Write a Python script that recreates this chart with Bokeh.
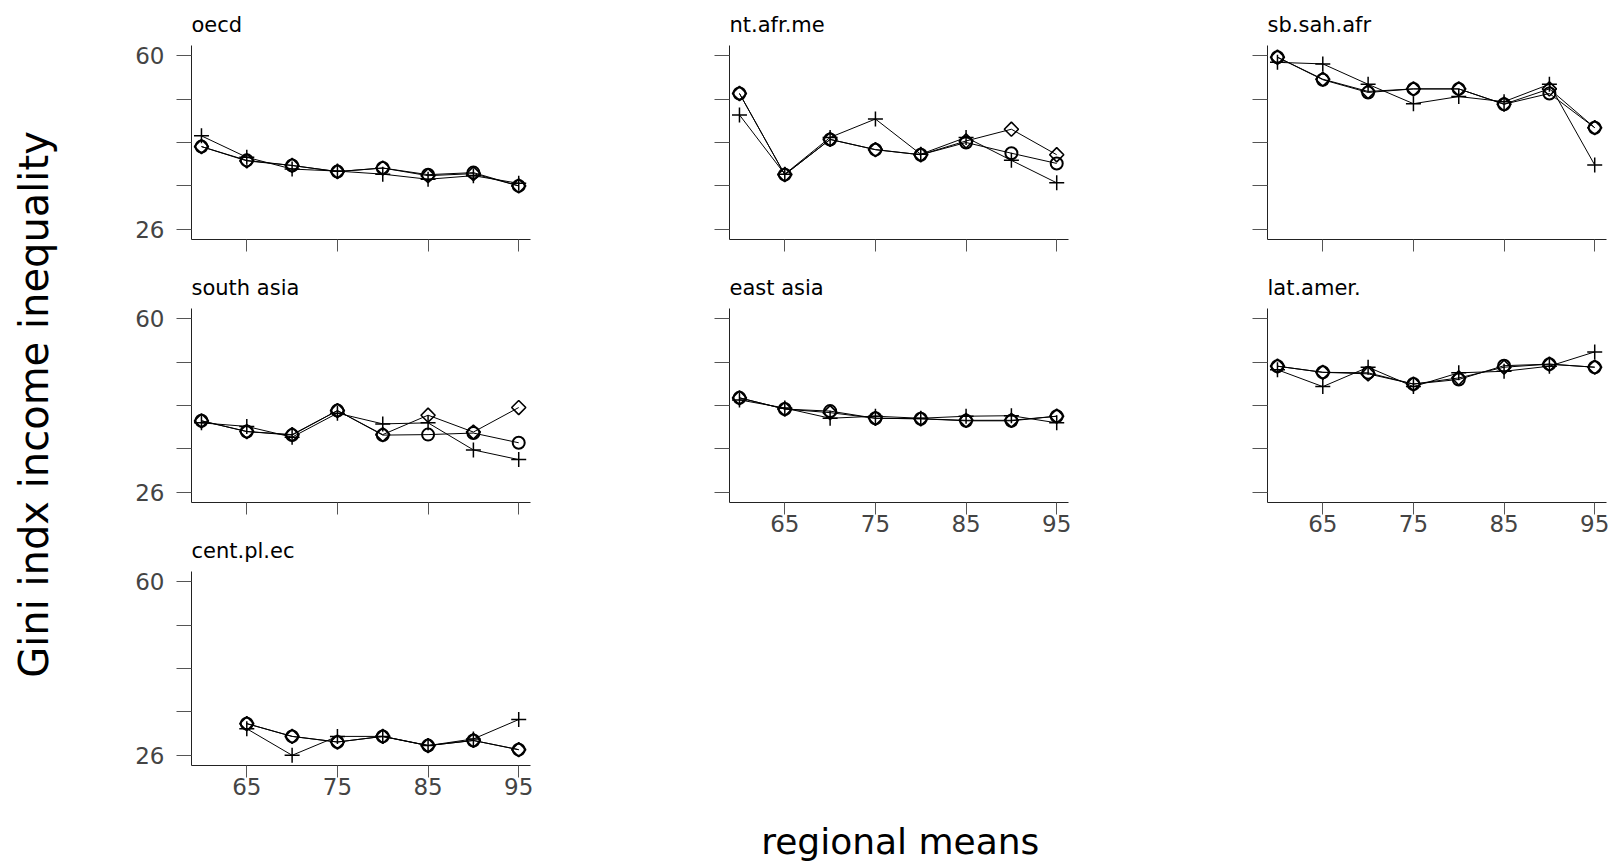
import numpy as np
from bokeh.plotting import figure
from bokeh.layouts import row, column
from bokeh.models import Range1d, FixedTicker, CustomJSTickFormatter, Label
from bokeh.embed import file_html
from bokeh.resources import INLINE

# ---------------- data ----------------
years = [60, 65, 70, 75, 80, 85, 90, 95]
x_ticks = [65, 75, 85, 95]
y_ticks = [26, 34.5, 43, 51.5, 60]
y_labeled = [26, 60]
x_title = "regional means"
y_title = "Gini indx income inequality"

oecd_plus = [44.3, 40.1, 37.8, 37.4, 36.8, 35.8, 36.5, 35.0]
oecd_circle = [42.2, 39.5, 38.5, 37.3, 38.0, 36.7, 37.1, 34.5]
oecd_diamond = [42.2, 39.4, 38.5, 37.3, 38.0, 36.5, 36.9, 34.5]

ntafr_plus = [48.4, 36.8, 44.0, 47.6, 40.7, 44.0, 39.5, 35.1]
ntafr_circle = [52.6, 36.7, 43.6, 41.6, 40.6, 43.0, 40.9, 38.9]
ntafr_diamond = [52.6, 36.7, 43.6, 41.6, 40.6, 43.3, 45.6, 40.6]

sbsah_plus = [58.7, 58.4, 54.4, 50.6, 52.0, 51.0, 54.4, 38.6]
sbsah_circle = [59.7, 55.3, 52.8, 53.5, 53.5, 50.5, 52.6, 45.9]
sbsah_diamond = [59.7, 55.4, 53.0, 53.5, 53.5, 50.5, 53.5, 45.9]

sasia_plus = [39.6, 38.9, 36.8, 41.5, 39.4, 39.6, 34.3, 32.4]
sasia_circle = [40.0, 37.9, 37.2, 42.0, 37.2, 37.3, 37.6, 35.7]
sasia_diamond = [40.0, 37.9, 37.3, 42.0, 37.3, 41.1, 37.8, 42.6]

easia_plus = [44.1, 42.5, 40.5, 40.9, 40.5, 40.9, 41.0, 39.6]
easia_circle = [44.5, 42.3, 41.9, 40.5, 40.4, 40.0, 40.0, 40.9]
easia_diamond = [44.5, 42.3, 41.6, 40.5, 40.4, 40.1, 40.1, 40.9]

latam_plus = [50.0, 46.7, 50.5, 46.7, 49.4, 49.7, 50.7, 53.5]
latam_circle = [50.7, 49.5, 49.4, 47.2, 48.1, 50.8, 51.1, 50.5]
latam_diamond = [50.7, 49.5, 49.2, 47.2, 48.4, 50.5, 51.1, 50.5]

cent_plus = [np.nan, 31.2, 26.0, 29.7, 29.7, 27.9, 29.2, 33.0]
cent_circle = [np.nan, 32.2, 29.7, 28.6, 29.7, 27.9, 28.9, 27.1]
cent_diamond = [np.nan, 32.2, 29.7, 28.6, 29.7, 27.9, 28.9, 27.1]

# ---------------- style ----------------
FONT = "DejaVu Sans"
FRAME_H = 194
LEFT = 113
TICK_FS = "23px"
AXIS_COL = "#222222"
TICK_COL = "#555555"


def panel(title, plus, circ, diam, width, right, top, bottom, ylabels, xlabels):
    p = figure(width=width, height=top + FRAME_H + bottom,
               x_range=Range1d(58.9, 96.3), y_range=Range1d(24, 62),
               output_backend="svg", toolbar_location=None,
               min_border_left=LEFT, min_border_right=right,
               min_border_top=top, min_border_bottom=bottom)
    p.outline_line_color = None
    p.xgrid.visible = False
    p.ygrid.visible = False
    p.title.text = title
    p.title.align = "left"
    p.title.text_font = FONT
    p.title.text_font_size = "21px"
    p.title.text_font_style = "normal"
    p.title.text_color = "black"
    p.title.standoff = 17

    xa = p.xaxis[0]
    xa.ticker = FixedTicker(ticks=x_ticks)
    xa.major_tick_out = 12
    xa.major_tick_in = 0
    xa.minor_tick_out = 0
    xa.axis_line_color = AXIS_COL
    xa.major_tick_line_color = TICK_COL
    xa.major_label_text_font = FONT
    xa.major_label_standoff = 0
    if xlabels:
        xa.major_label_text_font_size = TICK_FS
    else:
        xa.formatter = CustomJSTickFormatter(code="return '';")
        xa.major_label_text_font_size = "0px"

    ya = p.yaxis[0]
    ya.ticker = FixedTicker(ticks=y_ticks)
    ya.major_tick_out = 15
    ya.major_tick_in = 0
    ya.minor_tick_out = 0
    ya.axis_line_color = AXIS_COL
    ya.major_tick_line_color = TICK_COL
    ya.major_label_text_font = FONT
    ya.major_label_text_font_size = TICK_FS
    ya.major_label_standoff = 12
    if ylabels:
        ya.formatter = CustomJSTickFormatter(
            code="const show = %s; return show.includes(tick) ? String(tick) : '';" % y_labeled)
    else:
        ya.formatter = CustomJSTickFormatter(code="return '';")

    yrs = np.array(years, dtype=float)
    for vals in (diam, circ, plus):
        p.line(yrs, np.array(vals, dtype=float), line_color="black", line_width=1)
    p.scatter(yrs, np.array(diam, dtype=float), marker="square", angle=np.pi / 4, size=10,
              fill_color=None, line_color="black", line_width=1.6)
    p.scatter(yrs, np.array(circ, dtype=float), marker="circle", size=12,
              fill_color=None, line_color="black", line_width=2)
    p.scatter(yrs, np.array(plus, dtype=float), marker="cross", size=15,
              line_color="black", line_width=1.5)
    return p


def blank(width, height):
    p = figure(width=width, height=height, x_range=Range1d(0, width), y_range=Range1d(0, height),
               output_backend="svg", toolbar_location=None,
               min_border_left=0, min_border_right=0, min_border_top=0, min_border_bottom=0)
    p.axis.visible = False
    p.xgrid.visible = False
    p.ygrid.visible = False
    p.outline_line_color = None
    p.title.visible = False
    return p


YLAB_W = 78
W = 538
W3 = LEFT + 339 + 4
TOTAL_H = 862

T1, B1 = 45, 21
T2, B2 = 48, 21
B3 = 60
B2L = 50

p_oecd = panel("oecd", oecd_plus, oecd_circle, oecd_diamond, W, 86, T1, B1, True, False)
p_sasia = panel("south asia", sasia_plus, sasia_circle, sasia_diamond, W, 86, T2, B2, True, False)
p_cent = panel("cent.pl.ec", cent_plus, cent_circle, cent_diamond, W, 86, T2, B3, True, True)

p_ntafr = panel("nt.afr.me", ntafr_plus, ntafr_circle, ntafr_diamond, W, 86, T1, B1, False, False)
p_easia = panel("east asia", easia_plus, easia_circle, easia_diamond, W, 86, T2, B2L, False, True)

p_sbsah = panel("sb.sah.afr", sbsah_plus, sbsah_circle, sbsah_diamond, W3, 4, T1, B1, False, False)
p_latam = panel("lat.amer.", latam_plus, latam_circle, latam_diamond, W3, 4, T2, B2L, False, True)

h_used = (T1 + FRAME_H + B1) + (T2 + FRAME_H + B2L)
p_xlab = blank(W, TOTAL_H - h_used)
p_xlab.add_layout(Label(x=271, y=1, text=x_title, text_align="center",
                        text_baseline="bottom", text_font=FONT, text_font_size="36px",
                        text_color="black"))

p_ylab = blank(YLAB_W, TOTAL_H)
p_ylab.add_layout(Label(x=33, y=TOTAL_H - 404, text=y_title, angle=np.pi / 2, text_align="center",
                        text_baseline="middle", text_font=FONT, text_font_size="40px",
                        text_color="black"))

layout = row(p_ylab,
             column(p_oecd, p_sasia, p_cent),
             column(p_ntafr, p_easia, p_xlab),
             column(p_sbsah, p_latam))

open("out.html", "w").write(file_html(layout, INLINE, "Gini regional means"))
